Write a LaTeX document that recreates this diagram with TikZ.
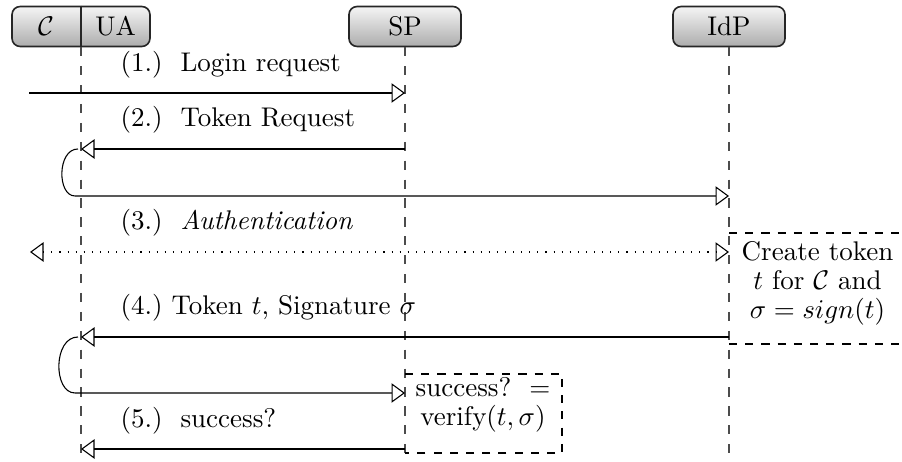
\documentclass[tikz,border=0pt]{standalone}
\usetikzlibrary{arrows.meta}
\begin{document}
\begin{tikzpicture}[x=0.37037pt,y=-0.37037pt,
  head/.style={draw=black!85, line width=0.6pt, rounded corners=3pt, top color=gray!8, bottom color=gray!65, minimum height=14.8pt, inner sep=0pt},
  life/.style={black!70, line width=0.4pt, dash pattern=on 3.4pt off 3.6pt},
  tip/.style={},
  msg/.style={-{Triangle[open,length=5pt,width=7.2pt]}, line width=0.4pt},
  dmsg/.style={{Triangle[open,length=5pt,width=7.2pt]}-{Triangle[open,length=5pt,width=7.2pt]}, line width=0.4pt, dash pattern=on 0.4pt off 2.6pt},
  lbl/.style={anchor=base west, inner sep=0pt},
  frame/.style={dashed, line width=0.4pt},
  note/.style={align=center, inner sep=0pt, font=\fontsize{10}{10.8}\selectfont}]
\useasboundingbox (0,0) rectangle (902,462);
\clip (0,0) rectangle (902,462);

% heads
\node[head, minimum width=51.1pt] (cua) at (81,26.5) {};
\node (c) at (46,26.5) {$\mathcal{C}$};
\node (ua) at (115.5,26.5) {UA};
\draw[black!85, line width=0.6pt] (cua.north) -- (cua.south);
\node[head, minimum width=41.5pt] (sp) at (405,26.5) {SP};
\node[head, minimum width=41.5pt] (idp) at (729,26.5) {IdP};

% lifelines
\coordinate (ua-bot) at (81,460);
\coordinate (sp-bot) at (405,453);
\coordinate (idp-bot) at (729,456);
\draw[life] (cua.south) -- (ua-bot);
\draw[life] (sp.south) -- (sp-bot);
\draw[life] (idp.south) -- (idp-bot);

% (1.)
\coordinate (m1a) at (29,93);
\coordinate (m1b) at (405,93);
\draw[msg] (m1a) -- (m1b);
\node[lbl] (l1) at (120,72) {(1.)\ \ Login request};

% (2.)
\coordinate (m2a) at (405,149);
\coordinate (m2b) at (81,149);
\draw[msg] (m2a) -- (m2b);
\coordinate (m2c) at (78,149);
\coordinate (m2d) at (75,196);
\coordinate (m2e) at (729,196);
\draw[msg] (m2c) .. controls (57,149) and (57,196) .. (m2d) -- (m2e);
\node[lbl] (l2) at (120,127) {(2.)\ \ Token Request};

% (3.)
\coordinate (m3a) at (30,252);
\coordinate (m3b) at (729,252);
\draw[dmsg] (m3a) -- (m3b);
\node[lbl] (l3) at (120,230) {(3.)\ \ \textit{Authentication}};

% (4.)
\coordinate (m4a) at (729,337);
\coordinate (m4b) at (81,337);
\draw[msg] (m4a) -- (m4b);
\coordinate (m4c) at (78,337);
\coordinate (m4d) at (75,393);
\coordinate (m4e) at (405,393);
\draw[msg] (m4c) .. controls (53,337) and (53,393) .. (m4d) -- (m4e);
\node[lbl] (l4) at (120,315) {(4.)\ Token $t$, Signature $\sigma$};

% (5.)
\coordinate (m5a) at (405,449);
\coordinate (m5b) at (81,449);
\draw[msg] (m5a) -- (m5b);
\node[lbl] (l5) at (120,428) {(5.)\ \ success?};

% create token box
\node[note] (ct) at (817.5,283.5) {Create token\\ $t$ for $\mathcal{C}$ and\\ $\sigma = sign(t)$};
\coordinate (ct-nw) at (729,233);
\coordinate (ct-ne) at (910,233);
\coordinate (ct-sw) at (729,344);
\coordinate (ct-se) at (910,344);
\draw[frame] (ct-nw) -- (ct-ne);
\draw[frame] (ct-sw) -- (ct-se);

% verify box
\node[note] (vb) at (483,405) {success?\ \ $=$\\ verify$(t,\sigma)$};
\coordinate (vb-tl) at (405,374);
\coordinate (vb-br) at (562,453);
\coordinate (vb-bl) at (405,453);
\draw[frame] (vb-tl) -| (vb-br) -- (vb-bl);
\end{tikzpicture}
\end{document}
